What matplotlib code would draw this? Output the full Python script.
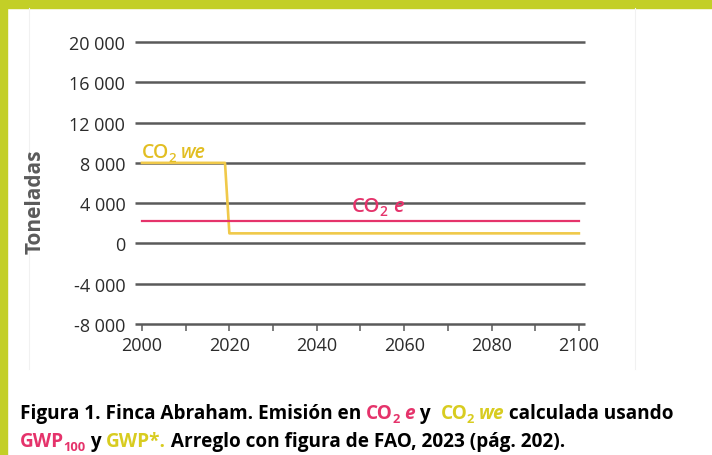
import matplotlib
matplotlib.use("Agg")
import matplotlib.pyplot as plt
from matplotlib.font_manager import FontProperties

# ---------------- data ----------------
years_we = [2000, 2019, 2020, 2100]
co2_we = [8000, 8000, 1000, 1000]
years_e = [2000, 2100]
co2_e = [2200, 2200]
y_ticks = [-8000, -4000, 0, 4000, 8000, 12000, 16000, 20000]
y_labels = ["-8 000", "-4 000", "0", "4 000", "8 000", "12 000", "16 000", "20 000"]
x_major = [2000, 2020, 2040, 2060, 2080, 2100]
x_minor = [2010, 2030, 2050, 2070, 2090]
x_labels = ["2000", "2020", "2040", "2060", "2080", "2100"]
ylabel_text = "Toneladas"

# ---------------- style ----------------
W, H = 712, 456
LIME = "#C3CF27"
PINK = "#E5336B"
YEL_LINE = "#F0C94A"
YEL_TXT = "#E2BE22"
YEL_CAP = "#D8CC20"
GRID = "#5A5A5A"
TXT = "#2B2B2B"
CHART_FONT = "Open Sans"
CAP_FONT = "Open Sans"

fig = plt.figure(figsize=(W / 100, H / 100), dpi=100)
fig.patch.set_facecolor("white")

def fx(px):
    return px / W

def fy(py):
    return (H - py) / H

# lime frame bands (top and left)
fig.patches.append(plt.Rectangle((0, fy(9)), 1, 9 / H, transform=fig.transFigure,
                                 color=LIME, zorder=0))
fig.patches.append(plt.Rectangle((0, 0), 7 / W, 1, transform=fig.transFigure,
                                 color=LIME, zorder=0))
# faint panel edges
for xx in (29, 635):
    fig.add_artist(plt.Line2D([fx(xx), fx(xx)], [fy(370), fy(9)],
                              transform=fig.transFigure, color="#F1F1F1", lw=0.8))

# axes: x 1998.4 -> 135px, 2101.4 -> 585px ; y -8000 -> 325px, 20000 -> 43px
ax = fig.add_axes([fx(135), fy(325), (585 - 135) / W, (325 - 43) / H])
ax.set_xlim(1998.4, 2101.4)
ax.set_ylim(-8000, 20000)
ax.set_facecolor("none")
for s in ax.spines.values():
    s.set_visible(False)

# horizontal grid lines (including axis line at -8000)
for yv in y_ticks:
    ax.plot([1998.4, 2101.4], [yv, yv], color=GRID, lw=1.8, zorder=2,
            clip_on=False, solid_capstyle="butt")

ax.set_yticks(y_ticks)
ax.set_yticklabels(y_labels, fontsize=13, color=TXT, family=CHART_FONT)
ax.tick_params(axis="y", length=0, pad=7)

ax.set_xticks(x_major)
ax.set_xticklabels(x_labels, fontsize=13, color=TXT, family=CHART_FONT)
ax.set_xticks(x_minor, minor=True)
ax.tick_params(axis="x", which="both", direction="out", length=5, width=1.1,
               color=GRID, pad=3.5)

# data lines
ax.plot(years_we, co2_we, color=YEL_LINE, lw=1.9, zorder=3, clip_on=False)
ax.plot(years_e, co2_e, color=PINK, lw=1.6, zorder=3, clip_on=False)

# y axis title
fig.text(fx(35), fy(202), ylabel_text, rotation=90, ha="center", va="center",
         fontsize=15, fontweight="bold", color="#5A5A5A", family=CHART_FONT)

# ---------------- rich text helper ----------------
fig.canvas.draw()
renderer = fig.canvas.get_renderer()

def adv(s, fp):
    w1, _, _ = renderer.get_text_width_height_descent("X" + s + "X", fp, ismath=False)
    w0, _, _ = renderer.get_text_width_height_descent("XX", fp, ismath=False)
    return w1 - w0

def rich(x_px, base_px, segs, size, family, weight="bold", zorder=5):
    """segs: (text, color, style, sub) ; draws left-aligned at baseline (pixels)."""
    x = x_px
    for text, color, style, sub in segs:
        fs = size * 0.68 if sub else size
        fp = FontProperties(family=family, size=fs, weight=weight, style=style)
        yb = base_px + (size * 0.30 if sub else 0)
        fig.text(fx(x), fy(yb), text, fontproperties=fp, color=color,
                 ha="left", va="baseline", zorder=zorder)
        x += adv(text, fp)
    return x

# in-chart labels (pixel positions)
rich(142, 158, [("CO", YEL_TXT, "normal", False), ("2", YEL_TXT, "normal", True),
                (" ", YEL_TXT, "normal", False), ("we", YEL_TXT, "italic", False)],
     14, CHART_FONT, weight="semibold")
rich(352, 212, [("CO", PINK, "normal", False), ("2", PINK, "normal", True),
                (" ", PINK, "normal", False), ("e", PINK, "italic", False)],
     14.5, CHART_FONT, weight="semibold", zorder=1)

# caption
cap1 = [("Figura 1. Finca Abraham. Emisión en ", "black", "normal", False),
        ("CO", PINK, "normal", False), ("2", PINK, "normal", True),
        (" ", PINK, "normal", False), ("e", PINK, "italic", False),
        (" y  ", "black", "normal", False),
        ("CO", YEL_CAP, "normal", False), ("2", YEL_CAP, "normal", True),
        (" ", YEL_CAP, "normal", False), ("we", YEL_CAP, "italic", False),
        (" calculada usando", "black", "normal", False)]
cap2 = [("GWP", PINK, "normal", False), ("100", PINK, "normal", True),
        (" y ", "black", "normal", False), ("GWP*.", YEL_CAP, "normal", False),
        (" Arreglo con figura de FAO, 2023 (pág. 202).", "black", "normal", False)]
rich(20, 419, cap1, 13.7, CAP_FONT)
rich(20, 447, cap2, 13.7, CAP_FONT)

fig.savefig("out.png", dpi=100, facecolor="white")
